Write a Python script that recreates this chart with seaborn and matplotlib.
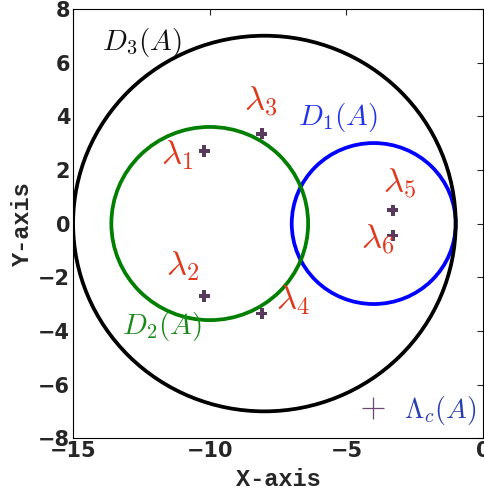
import matplotlib
matplotlib.use("Agg")
import matplotlib.pyplot as plt
import seaborn as sns
import pandas as pd
import numpy as np
from matplotlib.patches import Circle
from matplotlib.lines import Line2D

# eigenvalues
eig_re = [-10.2, -10.2, -8.1, -8.1, -3.3, -3.3]
eig_im = [2.7, -2.7, 3.35, -3.35, 0.5, -0.45]
eig_names = [r'$\lambda_1$', r'$\lambda_2$', r'$\lambda_3$', r'$\lambda_4$', r'$\lambda_5$', r'$\lambda_6$']
label_x = [-11.2, -11.0, -8.15, -6.95, -3.05, -3.85]
label_y = [2.55, -1.6, 4.55, -2.85, 1.5, -0.6]

# discs
disc_names = [r'$D_1(A)$', r'$D_2(A)$', r'$D_3(A)$']
disc_cx = [-4.0, -10.0, -8.0]
disc_r = [3.0, 3.6, 7.0]
disc_colors = ['#0000ff', '#007f00', '#000000']
disc_text_colors = ['#2233ee', '#1a8a1a', '#111111']
disc_label_x = [-5.3, -11.75, -12.5]
disc_label_y = [3.95, -3.85, 6.75]

sns.set_style("white")
plt.rcParams['mathtext.fontset'] = 'cm'

fig = plt.figure(figsize=(4.84, 4.94), dpi=100)
ax = fig.add_axes([0.151, 0.113, 0.847, 0.869])

for cx, r, c in zip(disc_cx, disc_r, disc_colors):
    ax.add_patch(Circle((cx, 0), r, fill=False, edgecolor=c, linewidth=2.7, zorder=2))

df = pd.DataFrame({'re': eig_re, 'im': eig_im})
sns.scatterplot(data=df, x='re', y='im', marker='P', s=65, color='#573a5c',
                edgecolor='none', ax=ax, zorder=4)

for t, x, y in zip(eig_names, label_x, label_y):
    ax.text(x, y, t, color='#e03a1e', fontsize=25, ha='center', va='center', zorder=5)
for t, x, y, c in zip(disc_names, disc_label_x, disc_label_y, disc_text_colors):
    ax.text(x, y, t, color=c, fontsize=21, ha='center', va='center', zorder=5)

handle = Line2D([], [], marker='+', linestyle='none', color='#6a4a6e',
                markersize=16, markeredgewidth=0.9)
leg = ax.legend([handle], [r'$\Lambda_c(A)$'], loc='lower right', frameon=False,
                fontsize=20, handlelength=1.0, handletextpad=0.6, borderaxespad=0.0,
                bbox_to_anchor=(1.01, 0.0))
for txt in leg.get_texts():
    txt.set_color('#2a3fb0')

ax.set_xlim(-15, 0)
ax.set_ylim(-8, 8)
ax.set_xticks([-15, -10, -5, 0])
ax.set_yticks([-8, -6, -4, -2, 0, 2, 4, 6, 8])
ax.tick_params(direction='in', top=True, right=True, length=4, width=0.8,
               labelsize=15, pad=2)
for lab in ax.get_xticklabels() + ax.get_yticklabels():
    lab.set_fontweight('bold')
for sp in ax.spines.values():
    sp.set_color('#000000')
    sp.set_linewidth(0.8)
ax.set_xlabel('X-axis', fontsize=17, fontweight='bold', family='Liberation Mono', labelpad=5)
ax.set_ylabel('Y-axis', fontsize=17, fontweight='bold', family='Liberation Mono', labelpad=3)

fig.savefig('out.png', dpi=100)
